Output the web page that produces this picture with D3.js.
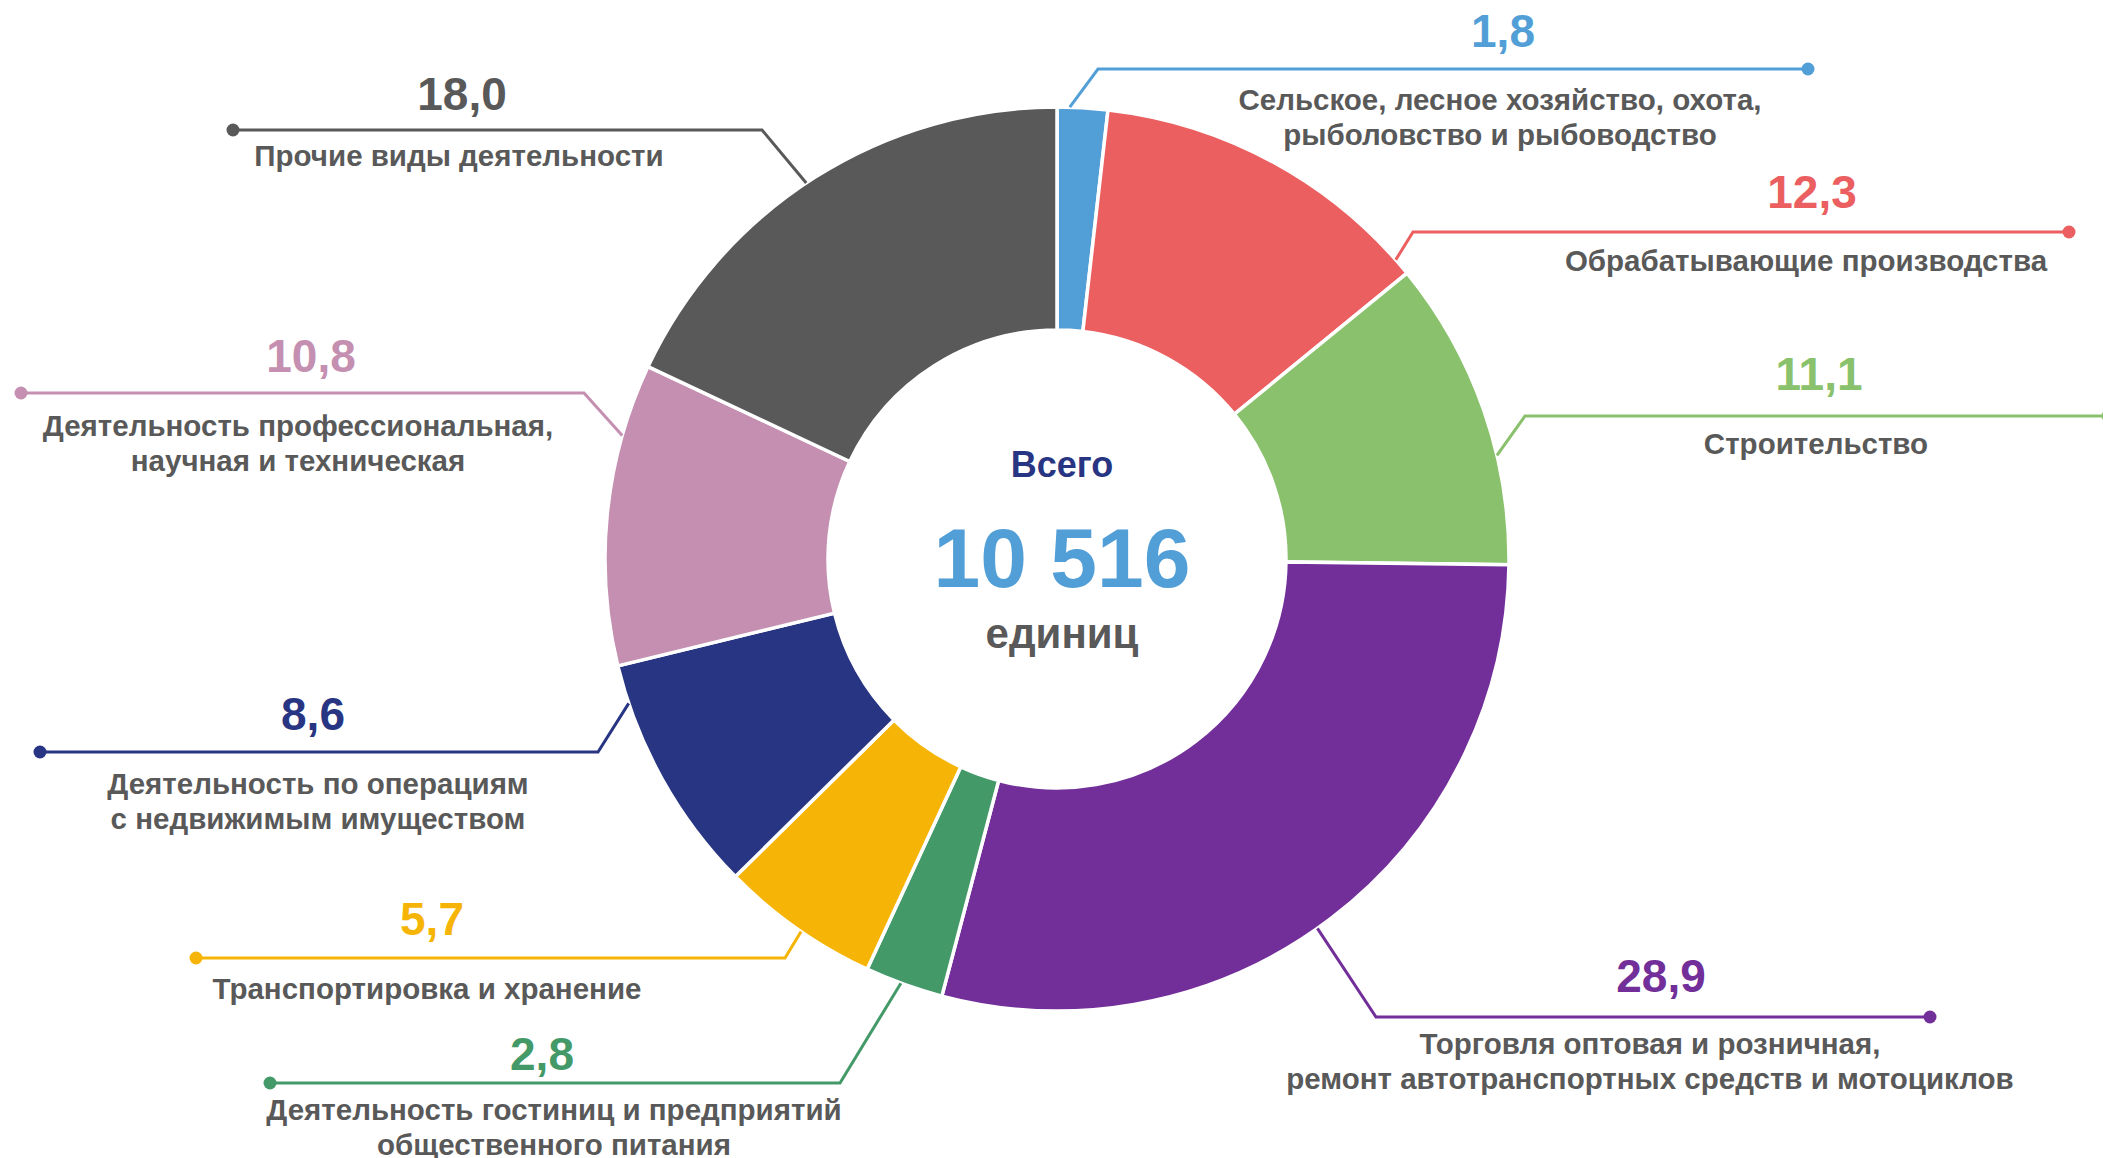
<!DOCTYPE html>
<html>

<head>
    <meta charset="UTF-8">
    <title>Всего 10 516 единиц</title>
    <script src="https://d3js.org/d3.v7.min.js"></script>
    <style>
        body { margin: 0; background: #fff; }
        text { font-family: "Liberation Sans", Arial, sans-serif; font-weight: bold; }
    </style>
</head>

<body>

    <script>
        // categories (label lines), shares in %, slice colours
        var categories = [
            ["Сельское, лесное хозяйство, охота,", "рыболовство и рыбоводство"],
            ["Обрабатывающие производства"],
            ["Строительство"],
            ["Торговля оптовая и розничная,", "ремонт автотранспортных средств и мотоциклов"],
            ["Деятельность гостиниц и предприятий", "общественного питания"],
            ["Транспортировка и хранение"],
            ["Деятельность по операциям", "с недвижимым имуществом"],
            ["Деятельность профессиональная,", "научная и техническая"],
            ["Прочие виды деятельности"]
        ];
        var shares = [1.8, 12.3, 11.1, 28.9, 2.8, 5.7, 8.6, 10.8, 18.0];
        var colors = ["#529fd7", "#eb5f60", "#89c16c", "#722f9a", "#449969", "#f6b506", "#283583", "#c48fb0", "#595959"];
        var centerTitle = "Всего";
        var centerTotal = "10 516";
        var centerUnit = "единиц";

        // hand placed callouts: where the leader leaves the slice (t = fraction of slice),
        // elbow, horizontal line, dot, value and label positions
        var callouts = [
            { t: 0.25, ex: 1098, ly: 69,   dx: 1808, vx: 1503, vy: 47,   tx: 1500, ty: 110 },
            { t: 0.95, ex: 1413, ly: 232,  dx: 2069, vx: 1812, vy: 208,  tx: 1806, ty: 271 },
            { t: 0.65, ex: 1525, ly: 416,  dx: 2108, vx: 1819, vy: 390,  tx: 1816, ty: 454 },
            { t: 0.52, ex: 1376, ly: 1017, dx: 1930, vx: 1661, vy: 992,  tx: 1650, ty: 1054 },
            { t: 0.54, ex: 840,  ly: 1083, dx: 270,  vx: 542,  vy: 1070, tx: 554,  ty: 1120 },
            { t: 0.47, ex: 785,  ly: 958,  dx: 196,  vx: 432,  vy: 935,  tx: 427,  ty: 999 },
            { t: 0.84, ex: 598,  ly: 752,  dx: 40,   vx: 313,  vy: 730,  tx: 318,  ty: 794 },
            { t: 0.76, ex: 584,  ly: 393,  dx: 21,   vx: 311,  vy: 372,  tx: 298,  ty: 436 },
            { t: 0.48, ex: 762,  ly: 130,  dx: 233,  vx: 462,  vy: 110,  tx: 459,  ty: 166 }
        ];

        var width = 2103, height = 1158;
        var cx = 1057, cy = 559;
        var outerR = 452, innerR = 229;
        var labelColor = "#595959";

        var fmt = function (v) { return d3.format(".1f")(v).replace(".", ","); };

        var svg = d3.select("body").append("svg")
            .attr("width", width)
            .attr("height", height);

        var pie = d3.pie().sort(null).value(function (d) { return d; });
        var arcs = pie(shares);

        var arc = d3.arc()
            .innerRadius(innerR)
            .outerRadius(outerR);

        var ring = svg.append("g")
            .attr("transform", "translate(" + cx + "," + cy + ")");

        ring.selectAll("path")
            .data(arcs)
            .enter().append("path")
            .attr("d", arc)
            .attr("fill", function (d, i) { return colors[i]; })
            .attr("stroke", "#fff")
            .attr("stroke-width", 3.5)
            .attr("stroke-linejoin", "miter");

        // leader lines
        var g = svg.append("g");

        arcs.forEach(function (a, i) {
            var c = callouts[i];
            var ang = a.startAngle + c.t * (a.endAngle - a.startAngle);
            var sx = cx + outerR * Math.sin(ang);
            var sy = cy - outerR * Math.cos(ang);

            g.append("path")
                .attr("d", d3.line()([[sx, sy], [c.ex, c.ly], [c.dx, c.ly]]))
                .attr("fill", "none")
                .attr("stroke", colors[i])
                .attr("stroke-width", 3);

            g.append("circle")
                .attr("cx", c.dx)
                .attr("cy", c.ly)
                .attr("r", 6.5)
                .attr("fill", colors[i]);

            g.append("text")
                .attr("x", c.vx)
                .attr("y", c.vy)
                .attr("text-anchor", "middle")
                .attr("font-size", 46)
                .attr("fill", colors[i])
                .text(fmt(shares[i]));

            var t = g.append("text")
                .attr("x", c.tx)
                .attr("y", c.ty)
                .attr("text-anchor", "middle")
                .attr("font-size", 29.5)
                .attr("fill", labelColor);

            categories[i].forEach(function (line, k) {
                t.append("tspan")
                    .attr("x", c.tx)
                    .attr("dy", k === 0 ? 0 : 35)
                    .text(line);
            });
        });

        // centre text
        var mid = svg.append("g")
            .attr("text-anchor", "middle");

        mid.append("text")
            .attr("x", cx + 5)
            .attr("y", 477)
            .attr("font-size", 36)
            .attr("fill", "#283583")
            .text(centerTitle);

        mid.append("text")
            .attr("x", cx + 5)
            .attr("y", 587)
            .attr("font-size", 84)
            .attr("fill", "#529fd7")
            .text(centerTotal);

        mid.append("text")
            .attr("x", cx + 5)
            .attr("y", 648)
            .attr("font-size", 42)
            .attr("fill", labelColor)
            .text(centerUnit);
    </script>
</body>

</html>
